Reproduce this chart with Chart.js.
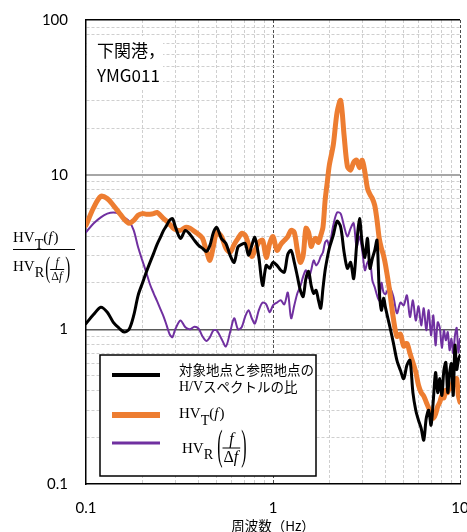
<!DOCTYPE html>
<html>
<head>
<meta charset="utf-8">
<script src="https://cdn.jsdelivr.net/npm/chart.js@4.4.1/dist/chart.umd.min.js"></script>
<style>
  html, body { margin: 0; padding: 0; background: #fff; }
</style>
</head>
<body>
<canvas id="hvChart" width="467" height="532"></canvas>
<script>
// frequency (Hz)
const freq = [
  0.10, 0.11, 0.12, 0.13, 0.14, 0.15, 0.16, 0.17, 0.18, 0.19, 0.20, 0.21, 0.22, 0.23, 0.24, 0.25,
  0.26, 0.27, 0.28, 0.29, 0.30, 0.32, 0.34, 0.36, 0.38, 0.40, 0.42, 0.44, 0.46, 0.48, 0.50, 0.53,
  0.56, 0.59, 0.62, 0.65, 0.68, 0.71, 0.74, 0.77, 0.80, 0.84, 0.88, 0.92, 0.96, 1.00,
  1.05, 1.10, 1.15, 1.20, 1.25, 1.30, 1.35, 1.40, 1.45, 1.50, 1.55, 1.60, 1.65, 1.70, 1.75, 1.80,
  1.85, 1.90, 1.95, 2.00,
  2.1, 2.2, 2.3, 2.4, 2.5, 2.6, 2.7, 2.8, 2.9, 3.0, 3.1, 3.2, 3.3, 3.4, 3.5, 3.6, 3.7, 3.8, 3.9, 4.0,
  4.2, 4.4, 4.6, 4.8, 5.0, 5.2, 5.4, 5.6, 5.8, 6.0, 6.2, 6.4, 6.6, 6.8, 7.0, 7.2, 7.4, 7.6, 7.8, 8.0,
  8.2, 8.4, 8.6, 8.8, 9.0, 9.2, 9.4, 9.6, 9.8, 10.0
];

// H/V ratio between target and reference site (black)
const ratioTR = [
  1.09, 1.25, 1.39, 1.29, 1.11, 1.02, 0.96, 1.0, 1.23, 1.66, 1.98, 2.34, 2.71, 3.1, 3.54, 3.93,
  4.36, 4.70, 5.07, 5.2, 4.63, 3.87, 4.36, 4.11, 3.76, 3.49, 3.34, 3.19, 3.49, 4.23, 4.56, 3.87,
  3.59, 3.01, 2.71, 3.41, 3.54, 3.59, 3.01, 3.49, 3.93, 2.92, 1.92, 2.59, 2.48, 2.71,
  2.59, 2.41, 2.34, 3.06, 3.24, 2.71, 2.2, 1.79, 1.63, 2.13, 2.37, 1.92, 1.71, 1.79, 1.54, 1.37,
  1.84, 2.41, 2.88, 3.34,
  4.05, 5.0, 4.6, 3.15, 2.48, 2.71, 2.13, 3.49, 5.2, 3.59, 2.92, 3.87, 2.48, 2.88, 3.24, 3.76,
  1.79, 1.33, 1.59, 1.37,
  1.06, 0.82, 0.63, 0.543, 0.48, 0.585, 0.63, 0.39, 0.30, 0.258, 0.229, 0.192, 0.266, 0.30, 0.24, 0.348,
  0.525, 0.39, 0.48, 0.374, 0.543, 0.61, 0.39, 0.525, 0.60, 0.374, 0.788, 0.55, 0.63, 0.68
];

// HV_T(f) (orange)
const hvT = [
  4.70, 6.14, 7.24, 7.0, 6.33, 5.7, 5.15, 4.85, 5.07, 5.46, 5.6, 5.55, 5.55, 5.6, 5.7, 5.46,
  5.2, 5.0, 4.78, 4.56, 4.42, 4.36, 4.56, 4.5, 4.3, 4.11, 3.87, 3.24, 2.79, 3.44, 4.23, 3.98,
  3.34, 3.15, 3.54, 3.87, 4.17, 4.05, 3.54, 2.96, 3.24, 3.65, 3.76, 2.92, 3.59, 3.98,
  3.24, 3.54, 3.76, 3.98, 4.36, 4.23, 3.24, 2.71, 3.01, 4.5, 4.23, 3.44, 3.76, 3.87, 3.65, 4.05,
  4.56, 6.82, 8.9, 11.5,
  15.5, 25.2, 30.2, 17.9, 11.3, 10.7, 12.0, 12.4, 11.1, 12.4, 10.4, 8.16, 7.45, 7.0, 6.33, 5.07,
  3.87, 3.34, 3.01, 2.59,
  1.79, 1.18, 0.9, 0.93, 0.78, 0.81, 0.7, 0.61, 0.53, 0.435, 0.39, 0.37, 0.338, 0.31, 0.286, 0.266,
  0.283, 0.318, 0.338, 0.374, 0.36, 0.403, 0.39, 0.435, 0.415, 0.468, 0.44, 0.48, 0.374, 0.338
];

// HV_R(f/Δf) (purple)
const hvR = [
  4.24, 4.85, 5.3, 5.6, 5.7, 5.6, 5.3, 5.0, 4.36, 3.39, 2.79, 2.34, 1.95, 1.71, 1.52, 1.35,
  1.21, 1.06, 0.93, 0.89, 1.0, 1.14, 1.03, 1.0, 1.04, 1.01, 0.9, 0.84, 0.89, 0.985, 0.985, 0.87,
  0.776, 0.96, 1.18, 1.0, 1.03, 1.21, 1.33, 1.18, 1.09, 1.33, 1.49, 1.45, 1.29, 1.43,
  1.49, 1.54, 1.45, 1.73, 1.18, 1.43, 1.71, 1.90, 2.2, 2.41, 2.14, 2.41, 2.79, 2.59, 2.71, 2.96,
  3.15, 3.65, 3.76, 3.44,
  4.70, 5.7, 5.6, 4.63, 3.98, 4.5, 4.85, 3.41, 3.98, 3.24, 2.41, 2.71, 2.79, 2.07, 1.87, 1.66,
  1.54, 2.0, 1.73, 1.69,
  1.87, 1.63, 1.27, 1.49, 1.43, 1.66, 1.2, 1.54, 1.14, 1.41, 1.06, 1.37, 0.985, 1.33, 0.915, 1.23,
  0.788, 1.11, 1.02, 0.76, 0.985, 0.849, 0.96, 0.732, 0.87, 0.70, 0.915, 1.02, 0.71, 0.87
];

// grid / tick values
const xTicks = [0.1, 0.2, 0.3, 0.4, 0.5, 0.6, 0.7, 0.8, 0.9, 1, 2, 3, 4, 5, 6, 7, 8, 9, 10];
const xLabels = [0.1, 1, 10];
const yTicks = [0.1, 0.2, 0.3, 0.4, 0.5, 0.6, 0.7, 0.8, 0.9, 1, 2, 3, 4, 5, 6, 7, 8, 9,
                10, 20, 30, 40, 50, 60, 70, 80, 90, 100];
const yLabels = [0.1, 1, 10, 100];
const yMajorLines = [1, 10, 100];

const siteName = ['下関港，', 'YMG011'];
const legendText = ['対象地点と参照地点の', 'スペクトルの比'];
const xTitle = '周波数（Hz）';

const pts = vals => freq.map((f, i) => ({ x: f, y: vals[i] }));

function serif(size, italic) {
    return (italic ? 'italic ' : '') + size + 'px "Liberation Serif"';
}

// draw a row of text pieces, returns the x where it ends
function runs(ctx, x, y, parts) {
    for (const p of parts) {
        ctx.font = p.font;
        x += (p.dx || 0);
        ctx.fillText(p.t, x, y + (p.dy || 0));
        x += ctx.measureText(p.t).width;
    }
    return x;
}

function paren(ctx, ch, x, yMid, size, stretch) {
    ctx.save();
    ctx.font = serif(size);
    const w = ctx.measureText(ch).width;
    ctx.translate(x, yMid);
    ctx.scale(1, stretch);
    ctx.textBaseline = 'middle';
    ctx.fillText(ch, 0, 0);
    ctx.restore();
    return x + w;
}

function drawHVT(ctx, x, y, s) {
    return runs(ctx, x, y, [
        { t: 'HV', font: serif(s) },
        { t: 'T', font: serif(s * 0.95), dy: s * 0.45 },
        { t: '(', font: serif(s) },
        { t: 'f', font: serif(s, true) },
        { t: ')', font: serif(s), dx: 1 }
    ]);
}

function drawHVR(ctx, x, y, o) {
    x = runs(ctx, x, y, [
        { t: 'HV', font: serif(o.s) },
        { t: 'R', font: serif(o.s * 0.95), dy: o.s * 0.42 }
    ]);
    const barY = y + o.barDy;
    x = paren(ctx, '(', x + o.gap, barY, o.ps, o.stretch);
    ctx.font = serif(o.fs);
    const dW = ctx.measureText('Δ').width;
    ctx.font = serif(o.fs, true);
    const fW = ctx.measureText('f').width;
    const w = dW + fW + 3;
    ctx.fillText('f', x + (w - fW) / 2, barY - o.fs * 0.28);
    ctx.fillRect(x, barY - 0.5, w, 1);
    ctx.font = serif(o.fs);
    ctx.fillText('Δ', x + 1, barY + o.fs * 0.85);
    ctx.font = serif(o.fs, true);
    ctx.fillText('f', x + 1 + dW, barY + o.fs * 0.85);
    return paren(ctx, ')', x + w + 1, barY, o.ps, o.stretch);
}

const decor = {
    id: 'decor',
    beforeDatasetsDraw(chart) {
        const { ctx, chartArea: a } = chart;
        // white patch behind the site name
        ctx.save();
        ctx.fillStyle = '#fff';
        ctx.fillRect(a.left + 1, a.top + 16, 76, 52);
        ctx.restore();
    },
    afterDatasetsDraw(chart) {
        const { ctx, chartArea: a } = chart;
        const ds = chart.data.datasets;
        ctx.save();
        ctx.fillStyle = '#000';
        ctx.textBaseline = 'middle';
        ctx.font = '17px "Noto Sans CJK JP"';
        ctx.fillText(siteName[0], a.left + 11, a.top + 31);
        ctx.fillText(siteName[1], a.left + 11, a.top + 56);

        // legend box
        const bx = a.left + 14, by = a.bottom - 129, bw = 216, bh = 121;
        ctx.fillStyle = '#fff';
        ctx.fillRect(bx, by, bw, bh);
        ctx.strokeStyle = '#000';
        ctx.lineWidth = 1.5;
        ctx.strokeRect(bx, by, bw, bh);
        const rows = [20, 60, 88];
        ds.forEach((d, i) => {
            ctx.strokeStyle = d.borderColor;
            ctx.lineWidth = d.borderWidth + 1;
            ctx.beginPath();
            ctx.moveTo(bx + 12, by + rows[i]);
            ctx.lineTo(bx + 60, by + rows[i]);
            ctx.stroke();
        });
        ctx.fillStyle = '#000';
        ctx.font = '13.5px "Noto Sans CJK JP"';
        ctx.fillText(legendText[0], bx + 79, by + 15);
        ctx.font = serif(14);
        ctx.fillText('H/V', bx + 79, by + 32);
        const hw = ctx.measureText('H/V').width;
        ctx.font = '13.5px "Noto Sans CJK JP"';
        ctx.fillText(legendText[1], bx + 79 + hw, by + 32);

        ctx.textBaseline = 'alphabetic';
        drawHVT(ctx, bx + 79, by + 63, 15);
        drawHVR(ctx, bx + 82, by + 98, { s: 15, fs: 16, ps: 16, stretch: 2.6, barDy: -5, gap: 4 });
        ctx.restore();
    },
    afterDraw(chart) {
        const { ctx } = chart;
        const y = chart.scales.y;
        const mid = (y.top + y.bottom) / 2 - 2.5;
        ctx.save();
        ctx.fillStyle = '#000';
        ctx.textBaseline = 'alphabetic';
        drawHVT(ctx, 13, mid - 7.5, 15);
        ctx.fillRect(13, mid - 0.5, 62, 1);
        drawHVR(ctx, 13, mid + 21.5, { s: 15, fs: 12, ps: 15, stretch: 1.9, barDy: -1.5, gap: 1 });
        ctx.restore();
    }
};

const tickFont = { family: 'Lato', size: 15 };

const chart = new Chart(document.getElementById('hvChart'), {
    type: 'line',
    data: {
        datasets: [{
            label: '対象地点と参照地点のH/Vスペクトルの比',
            data: pts(ratioTR),
            borderColor: '#000000',
            borderWidth: 3,
            xAxisID: 'x',
            yAxisID: 'y'
        },
        {
            label: 'HV_T(f)',
            data: pts(hvT),
            borderColor: '#ED7D31',
            borderWidth: 5,
            xAxisID: 'x',
            yAxisID: 'y'
        },
        {
            label: 'HV_R(f/Δf)',
            data: pts(hvR),
            borderColor: '#7030A0',
            borderWidth: 2,
            xAxisID: 'x',
            yAxisID: 'y'
        }]
    },
    options: {
        responsive: false,
        animation: false,
        events: [],
        layout: { padding: { top: 20, right: 7, left: 0, bottom: 0 } },
        elements: {
            point: { radius: 0 },
            line: { tension: 0.3, fill: false, borderJoinStyle: 'round', borderCapStyle: 'round' }
        },
        plugins: {
            legend: { display: false },
            tooltip: { enabled: false }
        },
        scales: {
            x: {
                type: 'logarithmic',
                min: 0.1,
                max: 10,
                afterBuildTicks: axis => { axis.ticks = xTicks.map(v => ({ value: v })); },
                afterFit: axis => { axis.height = 48; axis.paddingLeft = 0; axis.paddingRight = 0; },
                ticks: {
                    autoSkip: false,
                    maxRotation: 0,
                    padding: 15,
                    color: '#000',
                    font: tickFont,
                    callback: v => xLabels.includes(v) ? String(v) : ''
                },
                grid: {
                    drawTicks: false,
                    lineWidth: 1,
                    color: c => {
                        const v = c.tick && c.tick.value;
                        if (v === 0.1) return 'rgba(0,0,0,0)';
                        if (v === 1 || v === 10) return '#4d4d4d';
                        return '#cfcfcf';
                    }
                },
                border: { color: '#000', width: 1.5, dash: [3, 2] },
                title: {
                    display: true,
                    text: xTitle,
                    color: '#000',
                    font: { family: 'Noto Sans CJK JP', size: 13.5 },
                    padding: { top: 0, bottom: -2 }
                }
            },
            y: {
                type: 'logarithmic',
                position: 'left',
                min: 0.1,
                max: 100,
                afterBuildTicks: axis => { axis.ticks = yTicks.map(v => ({ value: v })); },
                afterFit: axis => { axis.width = 86; axis.paddingTop = 0; axis.paddingBottom = 0; },
                ticks: {
                    autoSkip: false,
                    padding: 18,
                    color: '#000',
                    font: tickFont,
                    callback: v => yLabels.includes(v) ? String(v) : ''
                },
                grid: {
                    drawTicks: false,
                    lineWidth: 1,
                    color: c => (c.tick && yLabels.includes(c.tick.value)) ? 'rgba(0,0,0,0)' : '#cfcfcf'
                },
                border: { color: '#000', width: 1.5, dash: [3, 2] }
            },
            yMajor: {
                type: 'logarithmic',
                position: 'left',
                min: 0.1,
                max: 100,
                afterBuildTicks: axis => { axis.ticks = yMajorLines.map(v => ({ value: v })); },
                afterFit: axis => { axis.width = 0; axis.paddingTop = 0; axis.paddingBottom = 0; },
                ticks: { display: false },
                grid: {
                    drawTicks: false,
                    color: c => {
                        const v = c.tick && c.tick.value;
                        if (v === 100) return '#000';
                        if (v === 10) return '#a6a6a6';
                        return '#595959';
                    },
                    lineWidth: c => (c.tick && c.tick.value === 10) ? 2 : 1.5
                },
                border: { display: false }
            }
        }
    },
    plugins: [decor]
});
</script>
</body>
</html>
